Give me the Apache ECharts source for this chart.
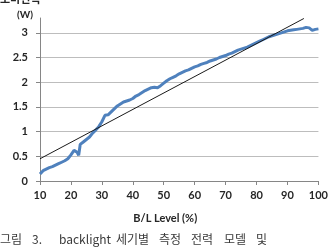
<!DOCTYPE html>
<html>
<head>
<meta charset="utf-8">
<script src="https://cdn.jsdelivr.net/npm/echarts@6/dist/echarts.min.js"></script>
<style>
    html, body { margin: 0; padding: 0; background: #fff; }
    #chart { width: 331px; height: 252px; }
</style>
</head>
<body>
<div id="chart"></div>
<script>
// B/L 레벨(%)과 측정 소비전력(W)
const levels = [10, 11, 12, 13, 14, 15, 16, 17, 18, 19, 20, 21, 22, 22.5, 23, 24, 25, 26, 27, 28, 29,
    30, 31, 32, 33, 34, 35, 36, 37, 38, 39, 40, 41, 42, 43, 44, 45, 46, 47, 48, 49,
    50, 51, 52, 53, 54, 55, 56, 57, 58, 59, 60, 61, 62, 63, 64, 65, 66, 67, 68, 69,
    70, 71, 72, 73, 74, 75, 76, 77, 78, 79, 80, 81, 82, 83, 84, 85, 86, 87, 88, 89,
    90, 91, 92, 93, 94, 95, 96, 97, 98, 99, 100];
const power = [0.14, 0.21, 0.24, 0.27, 0.29, 0.32, 0.35, 0.38, 0.41, 0.45, 0.53, 0.62, 0.58, 0.52, 0.74, 0.79, 0.84, 0.89, 0.97, 1.03, 1.10,
    1.20, 1.33, 1.34, 1.40, 1.46, 1.52, 1.56, 1.60, 1.62, 1.64, 1.67, 1.72, 1.75, 1.79, 1.83, 1.86, 1.89, 1.90, 1.89, 1.93,
    1.98, 2.03, 2.07, 2.10, 2.13, 2.17, 2.20, 2.23, 2.25, 2.28, 2.31, 2.33, 2.36, 2.38, 2.40, 2.43, 2.45, 2.47, 2.50, 2.52,
    2.54, 2.57, 2.59, 2.62, 2.65, 2.67, 2.69, 2.71, 2.74, 2.77, 2.80, 2.83, 2.86, 2.89, 2.92, 2.94, 2.96, 2.98, 3.00, 3.02,
    3.04, 3.05, 3.06, 3.07, 3.08, 3.09, 3.11, 3.10, 3.05, 3.07, 3.08];
// 전력 모델 (선형)
const trendLevels = [10, 95.3];
const trendPower = [0.45, 3.29];
// 그림 캡션 (단어별)
const captionWords = ['그림', '3.', 'backlight', '세기별', '측정', '전력', '모델', '및'];
const captionLefts = [0, 32, 59, 116, 159, 191, 224, 256];

const chart = echarts.init(document.getElementById('chart'));
const labelFont = { fontFamily: 'Lato', fontWeight: 'bold', fontSize: 11, color: '#262626' };

chart.setOption({
    animation: false,
    grid: { left: 40, right: 9, top: 18, bottom: 71, containLabel: false },
    xAxis: {
        type: 'value',
        min: 10, max: 100, interval: 10,
        name: 'B/L Level (%)',
        nameLocation: 'middle',
        nameGap: 32,
        nameTextStyle: Object.assign({ padding: [0, 28, 0, 0] }, labelFont),
        axisLine: { show: true, lineStyle: { color: '#868686', width: 1 } },
        axisTick: { show: true, length: 4, lineStyle: { color: '#868686' } },
        axisLabel: Object.assign({ margin: 9 }, labelFont),
        splitLine: { show: false }
    },
    yAxis: {
        type: 'value',
        min: 0, max: 3.3, interval: 0.5,
        axisLine: { show: true, lineStyle: { color: '#868686', width: 1 } },
        axisTick: { show: true, length: 4, lineStyle: { color: '#868686' } },
        axisLabel: Object.assign({ margin: 12, showMaxLabel: false }, labelFont),
        splitLine: { show: true, showMaxLine: false, lineStyle: { color: '#bdbdbd', width: 1 } }
    },
    series: [
        {
            type: 'line',
            data: levels.map((v, i) => [v, power[i]]),
            showSymbol: false,
            lineStyle: { color: '#4f81bd', width: 3 },
            z: 2
        },
        {
            type: 'line',
            data: trendLevels.map((v, i) => [v, trendPower[i]]),
            showSymbol: false,
            lineStyle: { color: '#1a1a1a', width: 1 },
            z: 3
        }
    ],
    graphic: [
        {
            type: 'text', left: 0, top: -7,
            style: { text: '소비전력', font: 'bold 11px "Noto Sans CJK KR"', fill: '#262626' }
        },
        {
            type: 'text', left: 17, top: 10,
            style: { text: '(W)', font: 'bold 10px Lato', fill: '#262626' }
        }
    ].concat(captionWords.map((w, i) => ({
        type: 'text', left: captionLefts[i], top: 233,
        style: { text: w, font: '12px "Noto Sans CJK KR"', fill: '#3a3a3a' }
    })))
});
</script>
</body>
</html>
